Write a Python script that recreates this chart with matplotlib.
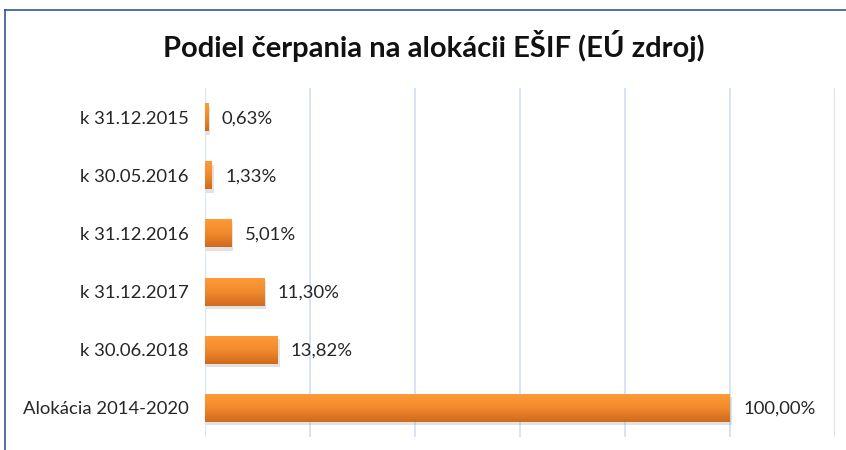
import numpy as np
import matplotlib.pyplot as plt
from matplotlib.lines import Line2D
from matplotlib.colors import LinearSegmentedColormap
from matplotlib.patches import Rectangle

categories = ["k 31.12.2015", "k 30.05.2016", "k 31.12.2016",
              "k 31.12.2017", "k 30.06.2018", "Alokácia 2014-2020"]
values = [0.63, 1.33, 5.01, 11.30, 13.82, 100.00]
labels = ["0,63%", "1,33%", "5,01%", "11,30%", "13,82%", "100,00%"]

plt.rcParams['font.family'] = ['Lato', 'DejaVu Sans']

fig = plt.figure(figsize=(8.46, 4.5), dpi=100)
ax = fig.add_axes([205 / 846, 1 - 437 / 450, 630 / 846, 349 / 450])

ypos = np.arange(len(categories))
h = 0.48
# light orange on top, darker at the bottom of each bar
grad = LinearSegmentedColormap.from_list("og", ["#d06a1e", "#f08a2c", "#ff9a38"])
g = np.linspace(0, 1, 64).reshape(-1, 1)

for y, v in zip(ypos, values):
    # soft shadow
    ax.add_patch(Rectangle((0.2, y - h / 2 + 0.06), v + 0.2, h, color="#a0a0a0",
                           alpha=0.3, lw=0, zorder=2))
    ax.imshow(g, cmap=grad, extent=(0, v, y + h / 2, y - h / 2), aspect='auto',
              origin='lower', zorder=3, interpolation='bilinear')

ax.set_xlim(0, 120)
ax.set_ylim(len(categories) - 0.5, -0.5)
ax.set_aspect('auto')

for y, v, lab in zip(ypos, values, labels):
    ax.text(v + 2.5, y + 0.02, lab, va='center', ha='left', fontsize=13.3, color="#262626")

ax.set_xticks(np.arange(0, 121, 20))
ax.set_xticklabels([])
ax.tick_params(axis='x', length=0)
ax.set_yticks(ypos)
ax.set_yticklabels(categories, fontsize=13.3, color="#262626")
ax.tick_params(axis='y', length=0, pad=12)
ax.grid(axis='x', color="#d6e2f2", lw=1.3)
ax.set_axisbelow(True)
for s in ax.spines.values():
    s.set_visible(False)

fig.text(434 / 846, 1 - 46 / 450, "Podiel čerpania na alokácii EŠIF (EÚ zdroj)",
         ha='center', va='center', fontsize=21, fontweight='bold', color="#111111")

# outer frame (top and left)
fig.add_artist(Line2D([5 / 846, 1], [1 - 10 / 450, 1 - 10 / 450], color="#2f5597", lw=1.2))
fig.add_artist(Line2D([5 / 846, 5 / 846], [1 - 10 / 450, 0], color="#2f5597", lw=1.2))

fig.savefig("out.png", dpi=100)
